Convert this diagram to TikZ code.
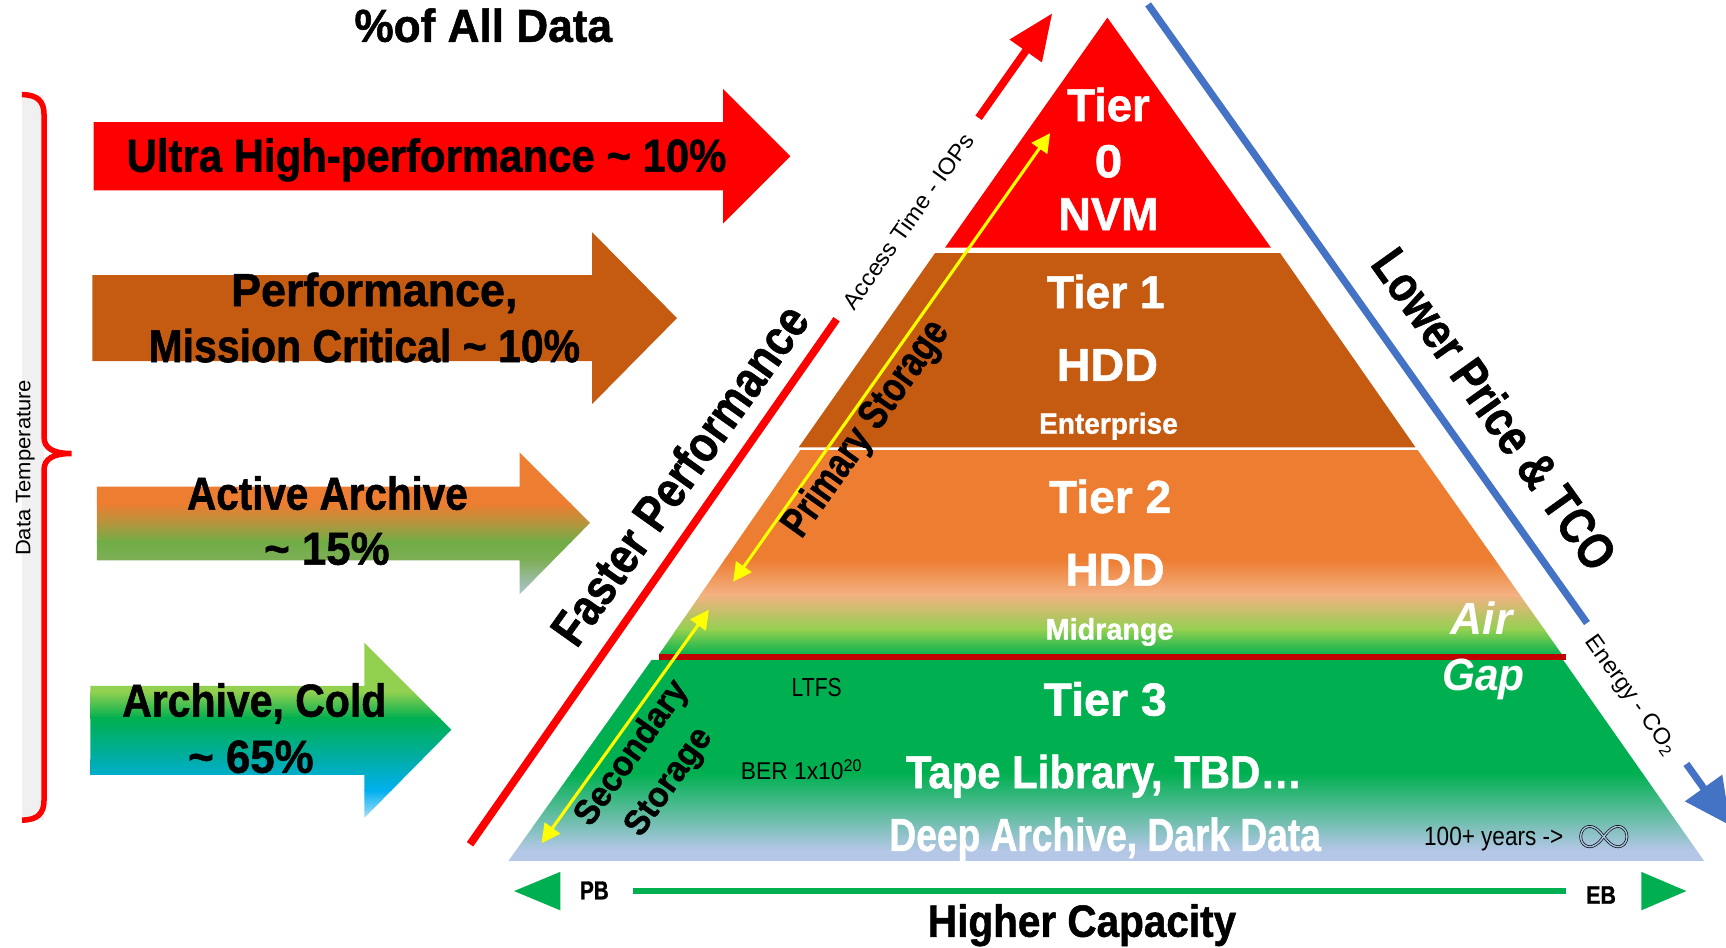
\documentclass[tikz,border=0pt]{standalone}
\usepackage{fontspec}
\setmainfont{Liberation Sans}[BoldFeatures={FakeBold=1.2}]
\usepackage{graphicx}
\usetikzlibrary{arrows.meta}
\definecolor{cRed}{HTML}{FF0000}
\definecolor{cBrown}{HTML}{C55A11}
\definecolor{cOrange}{HTML}{ED7D31}
\definecolor{cPeach}{HTML}{F4B183}
\definecolor{cLGreen}{HTML}{92D050}
\definecolor{cGreen}{HTML}{00B050}
\definecolor{cOlive}{HTML}{A99A3F}
\definecolor{cAGreen}{HTML}{70AD47}
\definecolor{cAGreenB}{HTML}{7DAE55}
\definecolor{cLBlue}{HTML}{B4C7E7}
\definecolor{cTeal}{HTML}{00ADA8}
\definecolor{cCyan}{HTML}{00B0F0}
\definecolor{cLCyan}{HTML}{BFE3F7}
\definecolor{cBlue}{HTML}{4472C4}
\definecolor{cDRed}{HTML}{C00000}
\definecolor{cYel}{HTML}{FFFF00}
\definecolor{cBand}{HTML}{F0F0F0}
\definecolor{cInf}{HTML}{A9C3E3}
\newcommand\fsz[1]{\fontsize{#1}{#1}\selectfont}
\newcommand\fitw[2]{\resizebox{#1pt}{\height}{#2}}
\begin{document}
\begin{tikzpicture}[x=1pt,y=-1pt,
  txt/.style={inner sep=0pt, outer sep=0pt, anchor=base},
  rtxt/.style={inner sep=0pt, outer sep=0pt, anchor=center},
  wb/.style={txt, text=white, font=\bfseries},
  bb/.style={txt, text=black, font=\bfseries},
  yarr/.style={cYel, line width=2.8pt, {Triangle[length=17pt,width=17pt]}-{Triangle[length=17pt,width=17pt]}}]
\useasboundingbox (0,0) rectangle (1568,861);
\clip (0,0) rectangle (1568,861);

% title
\node[bb] (title) at (439,38) {\fsz{42}\fitw{234}{\%of All Data}};

% data temperature brace
\fill[cBand] (20,86) rectangle (40,745);
\draw[cRed, line width=5pt] (20,86) .. controls (34,86) and (40,92) .. (40,104) -- (40,397)
  .. controls (40,407) and (48,412) .. (65,412) .. controls (48,412) and (40,417) .. (40,427)
  -- (40,727) .. controls (40,739) and (34,745) .. (20,745);
\node[rtxt, rotate=90] (temp) at (23,425) {\fsz{19}\fitw{160}{Data Temperature}};

% block arrows
\fill[cRed] (85,111) -- (657,111) -- (657,81) -- (718,142) -- (657,203) -- (657,173) -- (85,173) -- cycle;
\fill[cBrown] (84,250) -- (538,250) -- (538,211) -- (615,289) -- (538,367) -- (538,328) -- (84,328) -- cycle;
\begin{scope}
\clip (88,442) -- (472,442) -- (472,411) -- (536,475) -- (472,540) -- (472,509) -- (88,509) -- cycle;
\fill[cOrange] (80,405) rectangle (540,458);
\shade[top color=cOrange, bottom color=cOlive] (80,457.5) rectangle (540,478.5);
\shade[top color=cOlive, bottom color=cAGreen] (80,478) rectangle (540,492.5);
\shade[top color=cAGreen, bottom color=cAGreenB] (80,492) rectangle (540,508.5);
\shade[top color=cAGreenB, bottom color=cLBlue] (80,508) rectangle (540,545);
\end{scope}
\begin{scope}
\clip (82,623) -- (331,623) -- (331,584) -- (410,663) -- (331,743) -- (331,704) -- (82,704) -- cycle;
\fill[cLGreen] (75,578) rectangle (415,628.5);
\shade[top color=cLGreen, bottom color=cGreen] (75,628) rectangle (415,652.5);
\shade[top color=cGreen, bottom color=cTeal] (75,652) rectangle (415,690.5);
\shade[top color=cTeal, bottom color=cCyan] (75,690) rectangle (415,718.5);
\shade[top color=cCyan, bottom color=cLCyan] (75,718) rectangle (415,746);
\end{scope}

\node[bb] (a1) at (387.5,156) {\fsz{42}\fitw{545}{Ultra High-performance \textasciitilde\ 10\%}};
\node[bb] (a2a) at (340,278) {\fsz{42}\fitw{260}{Performance,}};
\node[bb] (a2b) at (331,329) {\fsz{42}\fitw{392}{Mission Critical \textasciitilde\ 10\%}};
\node[bb] (a3a) at (297.5,463) {\fsz{42}\fitw{255}{Active Archive}};
\node[bb] (a3b) at (297,513) {\fsz{42}\fitw{114}{\textasciitilde\ 15\%}};
\node[bb] (a4a) at (231,651) {\fsz{42}\fitw{240}{Archive, Cold}};
\node[bb] (a4b) at (228,702) {\fsz{42}\fitw{114}{\textasciitilde\ 65\%}};

% pyramid
\fill[cRed] (1006,16) -- (1154.6,225) -- (858.5,225) -- cycle;
\fill[cBrown] (849.4,230) -- (1163,230) -- (1286,406.5) -- (725.5,406.5) -- cycle;
\begin{scope}
\clip (727,409) -- (1288,409) -- (1419,594.5) -- (598.7,594.5) -- cycle;
\fill[cOrange] (590,405) rectangle (1430,508.5);
\shade[top color=cOrange, bottom color=cPeach] (590,508) rectangle (1430,540.5);
\shade[top color=cPeach, bottom color=cLGreen] (590,540) rectangle (1430,572.5);
\shade[top color=cLGreen, bottom color=cGreen] (590,572) rectangle (1430,596);
\end{scope}
\begin{scope}
\clip (592,599.5) -- (1420,599.5) -- (1548,782) -- (462,782) -- cycle;
\fill[cGreen] (455,595) rectangle (1560,702.5);
\shade[top color=cGreen, bottom color=cLBlue] (455,702) rectangle (1560,772.5);
\fill[cLBlue] (455,772) rectangle (1560,790);
\end{scope}
\fill[cDRed] (598.7,594) rectangle (1423,600);

% pyramid texts
\node[wb] (t0a) at (1007,110) {\fsz{42}\fitw{75}{Tier}};
\node[wb] (t0b) at (1007,161) {\fsz{42}\fitw{25}{0}};
\node[wb] (t0c) at (1007,209) {\fsz{42}\fitw{91}{NVM}};
\node[wb] (t1a) at (1004.5,280) {\fsz{42}\fitw{107}{Tier 1}};
\node[wb] (t1b) at (1006,346) {\fsz{42}\fitw{92}{HDD}};
\node[wb] (t1c) at (1007,394) {\fsz{26.5}\fitw{126}{Enterprise}};
\node[wb] (t2a) at (1008.5,466) {\fsz{42}\fitw{111}{Tier 2}};
\node[wb] (t2b) at (1013,532) {\fsz{42}\fitw{90}{HDD}};
\node[wb] (t2c) at (1008,581) {\fsz{27}\fitw{116}{Midrange}};
\node[wb] (t3a) at (1004,650) {\fsz{42}\fitw{112}{Tier 3}};
\node[wb] (t3b) at (1003,716) {\fsz{42}\fitw{360}{Tape Library, TBD…}};
\node[wb] (t3c) at (1004,773) {\fsz{42}\fitw{392}{Deep Archive, Dark Data}};
\node[wb, font=\bfseries\itshape] (air) at (1346,576) {\fsz{41}\fitw{56}{Air}};
\node[wb, font=\bfseries\itshape] (gap) at (1347.5,627) {\fsz{41}\fitw{75}{Gap}};
\node[txt] (ltfs) at (742,633) {\fsz{23.7}\fitw{45.5}{LTFS}};
\node[txt] (ber) at (728,708.5) {\fsz{22}\fitw{110}{BER 1x10\textsuperscript{20}}};
\node[txt] (yrs) at (1357,768.5) {\fsz{24}\fitw{126.4}{100+ years ->}};
\draw[black, line width=0.6pt, double=cInf, double distance=1.3pt]
  plot[smooth cycle, domain=0:355, samples=72] ({1457+21*cos(\x)/(1+sin(\x)^2)}, {760+26*sin(\x)*cos(\x)/(1+sin(\x)^2)});

% faster performance line
\coordinate (fp1) at (427,767);
\coordinate (fp2) at (760,290);
\coordinate (fp3) at (889,107);
\coordinate (fp4) at (956,12);
\draw[cRed, line width=7pt] (fp1) -- (fp2);
\draw[cRed, line width=7pt, -{Triangle[length=42pt,width=34pt]}] (fp3) -- (fp4);
\node[rtxt, rotate=54.5, font=\bfseries] (fast) at (617,431) {\fsz{46}\fitw{367}{Faster Performance}};
\node[rtxt, rotate=54.5] (acc) at (825,201) {\fsz{21}\fitw{190}{Access Time - IOPs}};

% storage arrows
\coordinate (ps1) at (666,528.6);
\coordinate (ps2) at (954,121);
\draw[yarr] (ps1) -- (ps2);
\coordinate (ss1) at (644,554);
\coordinate (ss2) at (492,766);
\draw[yarr] (ss1) -- (ss2);
\node[rtxt, rotate=54.5, font=\bfseries] (prim) at (787.5,390) {\fsz{38}\fitw{232}{Primary Storage}};
\node[rtxt, rotate=54.5, font=\bfseries] (sec1) at (574.5,684.5) {\fsz{32}\fitw{154}{Secondary}};
\node[rtxt, rotate=54.5, font=\bfseries] (sec2) at (608.5,711) {\fsz{32}\fitw{113}{Storage}};

% right side
\coordinate (bl1) at (1043,4);
\coordinate (bl2) at (1441.7,566);
\draw[cBlue, line width=6.5pt] (bl1) -- (bl2);
\coordinate (bl3) at (1532,694);
\coordinate (bl4) at (1572,750);
\draw[cBlue, line width=6.5pt, -{Triangle[length=42pt,width=40pt]}] (bl3) -- (bl4);
\node[rtxt, rotate=-54.5, font=\bfseries] (price) at (1358,371.5) {\fsz{46}\fitw{346}{Lower Price \& TCO}};
\node[rtxt, rotate=-54.5] (energy) at (1481,632) {\fsz{21}\fitw{128}{Energy - CO\textsubscript{2}}};

% capacity axis
\fill[cGreen] (467,809.5) -- (509,792) -- (509,827) -- cycle;
\fill[cGreen] (1491,792) -- (1532,809.5) -- (1491,827) -- cycle;
\coordinate (cap1) at (575,809.5);
\coordinate (cap2) at (1423,809.5);
\draw[cGreen, line width=5pt] (cap1) -- (cap2);
\node[bb] (pb) at (540,817) {\fsz{23.5}\fitw{26}{PB}};
\node[bb] (eb) at (1454.5,821) {\fsz{23}\fitw{27}{EB}};
\node[bb] (hc) at (983,851) {\fsz{41}\fitw{280}{Higher Capacity}};
\end{tikzpicture}
\end{document}
